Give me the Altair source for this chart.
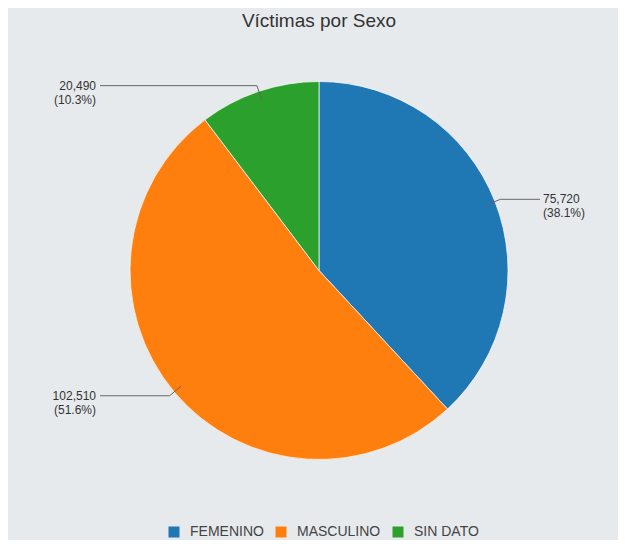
import altair as alt
import pandas as pd

categories = ["FEMENINO", "MASCULINO", "SIN DATO"]
values = [75720, 102510, 20490]
order = [1, 2, 3]
colors = ["#1f77b4", "#ff7f0e", "#2ca02c"]

df = pd.DataFrame({"category": categories, "value": values, "order": order})

# layout constants (plot-area pixels)
CX, CY, R = 311, 222.5, 189
R_IN, R_OUT = 180, 195
X_RIGHT, X_LEFT = 532, 92
LBL_RIGHT, LBL_LEFT = 535, 88
FONT = "Liberation Sans"

pie = alt.Chart(df).mark_arc(radius=R, stroke="#ffffff", strokeWidth=0.7).encode(
    theta=alt.Theta("value:Q", stack=True),
    order=alt.Order("order:Q"),
    color=alt.Color(
        "category:N",
        scale=alt.Scale(domain=categories, range=colors),
        legend=alt.Legend(
            orient="none", legendX=159, legendY=477, direction="horizontal",
            title=None, symbolType="square", symbolSize=121, symbolStrokeWidth=0,
            labelFontSize=14, labelColor="#444", labelFont=FONT,
            labelOffset=9, columnPadding=10, padding=0,
        ),
    ),
    x=alt.value(CX),
    y=alt.value(CY),
)

base = (
    alt.Chart(df)
    .transform_joinaggregate(total="sum(value)")
    .transform_window(cum="sum(value)", sort=[alt.SortField("order")])
    .transform_calculate(mid="2*PI*(datum.cum - datum.value/2)/datum.total")
    .transform_calculate(
        x0=f"{CX} + {R_IN}*sin(datum.mid)",
        y0=f"{CY} - {R_IN}*cos(datum.mid)",
        x1=f"{CX} + {R_OUT}*sin(datum.mid)",
        y1=f"{CY} - {R_OUT}*cos(datum.mid)",
        side="sin(datum.mid) >= 0 ? 1 : -1",
        label="format(datum.value, ',') + '\\n(' + format(datum.value/datum.total, '.1%') + ')'",
    )
    .transform_calculate(
        xe=f"datum.side > 0 ? {X_RIGHT} : {X_LEFT}",
        lx=f"datum.side > 0 ? {LBL_RIGHT} : {LBL_LEFT}",
    )
)

seg1 = base.mark_rule(color="#666666", strokeWidth=1).encode(
    x=alt.X("x0:Q", scale=None), y=alt.Y("y0:Q", scale=None),
    x2="x1:Q", y2="y1:Q",
)
seg2 = base.mark_rule(color="#666666", strokeWidth=1).encode(
    x=alt.X("x1:Q", scale=None), y=alt.Y("y1:Q", scale=None),
    x2="xe:Q", y2="y1:Q",
)
txt_r = base.transform_filter("datum.side > 0").mark_text(
    align="left", baseline="middle", lineBreak="\n", fontSize=12, font=FONT, color="#333333"
).encode(x=alt.X("lx:Q", scale=None), y=alt.Y("y1:Q", scale=None), text="label:N")
txt_l = base.transform_filter("datum.side < 0").mark_text(
    align="right", baseline="middle", lineBreak="\n", fontSize=12, font=FONT, color="#333333"
).encode(x=alt.X("lx:Q", scale=None), y=alt.Y("y1:Q", scale=None), text="label:N")

chart = (
    alt.layer(pie, seg1, seg2, txt_r, txt_l)
    .properties(
        width=610, height=452,
        padding={"left": 0, "right": 0, "top": 40, "bottom": 40},
        autosize=alt.AutoSizeParams(type="none"),
        background="#e7eaed",
        title=alt.TitleParams(
            "Víctimas por Sexo", fontSize=19, font=FONT, fontWeight="normal",
            color="#333333", offset=17, anchor="middle", dx=6,
        ),
    )
    .configure_view(stroke=None)
)

chart.save("out.html", embed_options={"renderer": "svg", "actions": False})
